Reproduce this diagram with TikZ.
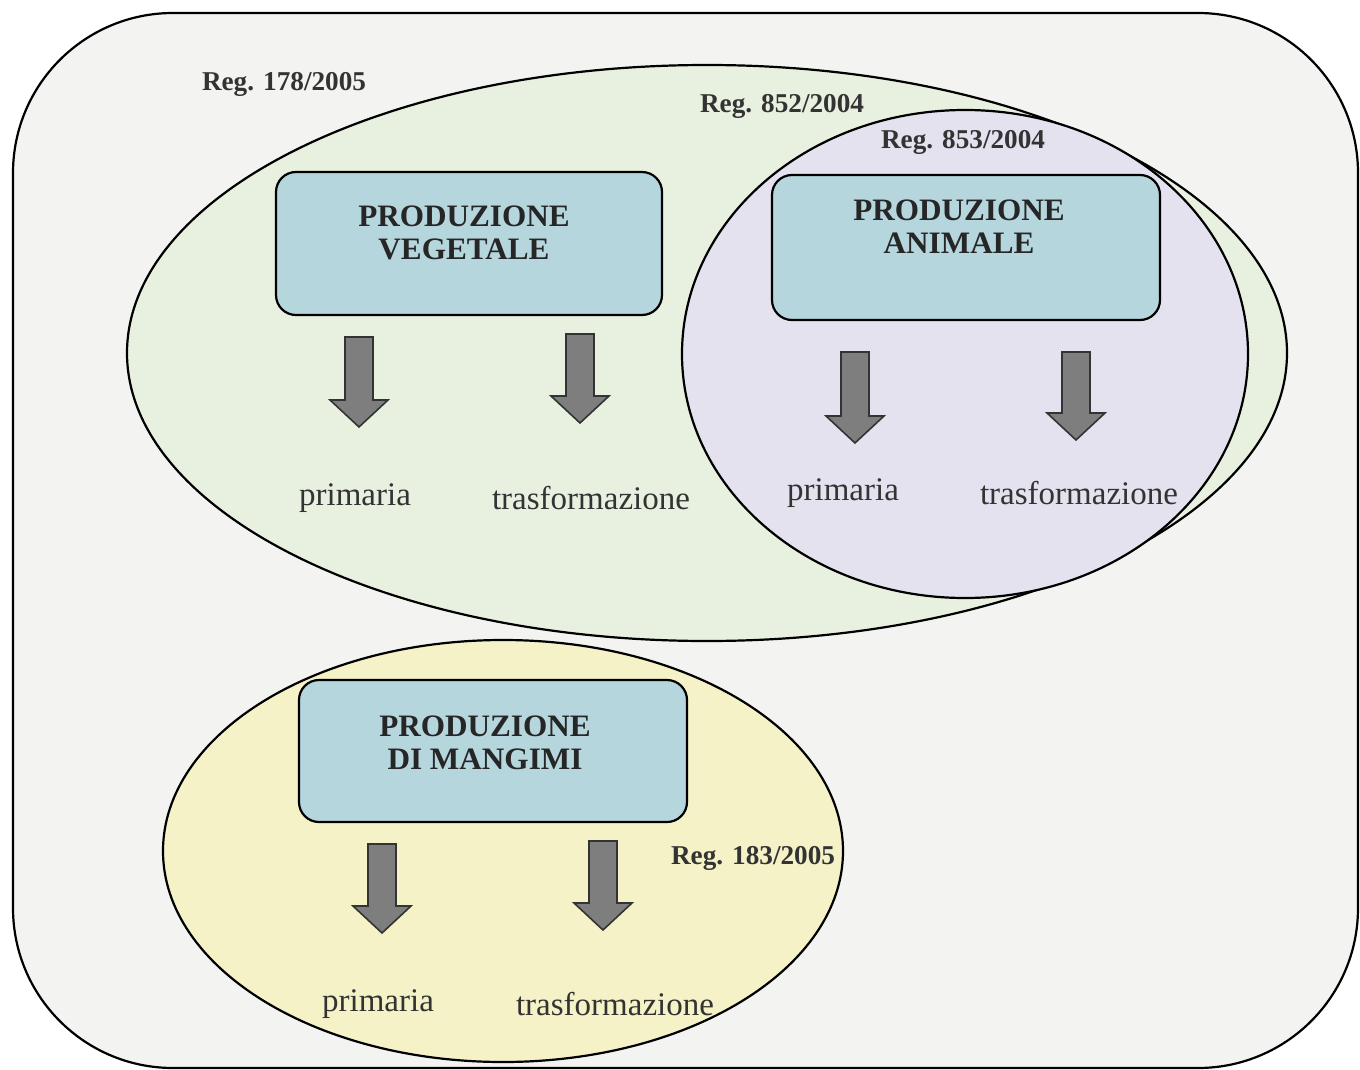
\documentclass[tikz,border=0pt]{standalone}
\usepackage{fontspec}
\setmainfont{Liberation Serif}
\definecolor{bgray}{HTML}{F3F3F2}
\definecolor{egreen}{HTML}{E8F1E0}
\definecolor{epurple}{HTML}{E4E2EF}
\definecolor{eyellow}{HTML}{F4F2C6}
\definecolor{boxblue}{HTML}{B6D6DE}
\definecolor{arrgray}{HTML}{7E7E7E}
\tikzset{
  outline/.style={draw=black, line width=1.1pt},
  prodbox/.style={outline, fill=boxblue, rounded corners=10pt, inner sep=0pt},
  boxtitle/.style={font=\bfseries\fontsize{15.6}{16.5}\selectfont, align=center, inner sep=0pt, text=black!85},
  sublabel/.style={font=\fontsize{16.5}{18}\selectfont, inner sep=0pt, text=black!80},
  reglabel/.style={font=\bfseries\fontsize{13.6}{15}\selectfont, inner sep=0pt, text=black!80},
  blockarrow/.style={draw=black!80, line width=0.8pt, fill=arrgray, line join=miter}
}
\newcommand\barrowdraw[3]{%
  \draw[blockarrow] ({#1-14},#2) -- ({#1+14},#2) -- ({#1+14},{#3-27}) -- ({#1+29},{#3-27})
    -- (#1,#3) -- ({#1-29},{#3-27}) -- ({#1-14},{#3-27}) -- cycle;}
\begin{document}
\begin{tikzpicture}[x=0.5pt,y=-0.5pt]
\useasboundingbox (0,0) rectangle (1360,1070);
\fill[white] (0,0) rectangle (1360,1070);
% outer frame
\draw[outline, fill=bgray, rounded corners=80pt] (13,13) rectangle (1358,1068);
% ellipses
\draw[outline, fill=egreen] (707,353) ellipse [x radius=580, y radius=288];
\draw[outline, fill=epurple] (965,354) ellipse [x radius=283, y radius=244];
\draw[outline, fill=eyellow] (503,851) ellipse [x radius=340, y radius=211];
% regulation labels
\node[reglabel] (r178) at (284,84) {Reg. 178/2005};
\node[reglabel] (r852) at (782,106) {Reg. 852/2004};
\node[reglabel] (r853) at (963,142) {Reg. 853/2004};
\node[reglabel] (r183) at (753,858) {Reg. 183/2005};
% boxes
\node[prodbox, minimum width=193pt, minimum height=71.5pt] (vegbox) at (469,243.5) {};
\node[boxtitle] (vegtitle) at (464,233) {PRODUZIONE\\VEGETALE};
\node[prodbox, minimum width=194pt, minimum height=72.5pt] (anibox) at (966,247.5) {};
\node[boxtitle] (anititle) at (959,227) {PRODUZIONE\\ANIMALE};
\node[prodbox, minimum width=194pt, minimum height=71pt] (mangbox) at (493,751) {};
\node[boxtitle] (mangtitle) at (485,743) {PRODUZIONE\\DI MANGIMI};
% arrows
\barrowdraw{359}{337}{427}
\barrowdraw{580}{334}{423}
\barrowdraw{855}{352}{443}
\barrowdraw{1076}{352}{440}
\barrowdraw{382}{844}{933}
\barrowdraw{603}{841}{930}
% sub labels
\node[sublabel] (vegprim) at (355,498) {primaria};
\node[sublabel] (vegtras) at (591,498) {trasformazione};
\node[sublabel] (aniprim) at (843,493) {primaria};
\node[sublabel] (anitras) at (1079,493) {trasformazione};
\node[sublabel] (mangprim) at (378,1004) {primaria};
\node[sublabel] (mangtras) at (615,1004) {trasformazione};
\end{tikzpicture}
\end{document}
